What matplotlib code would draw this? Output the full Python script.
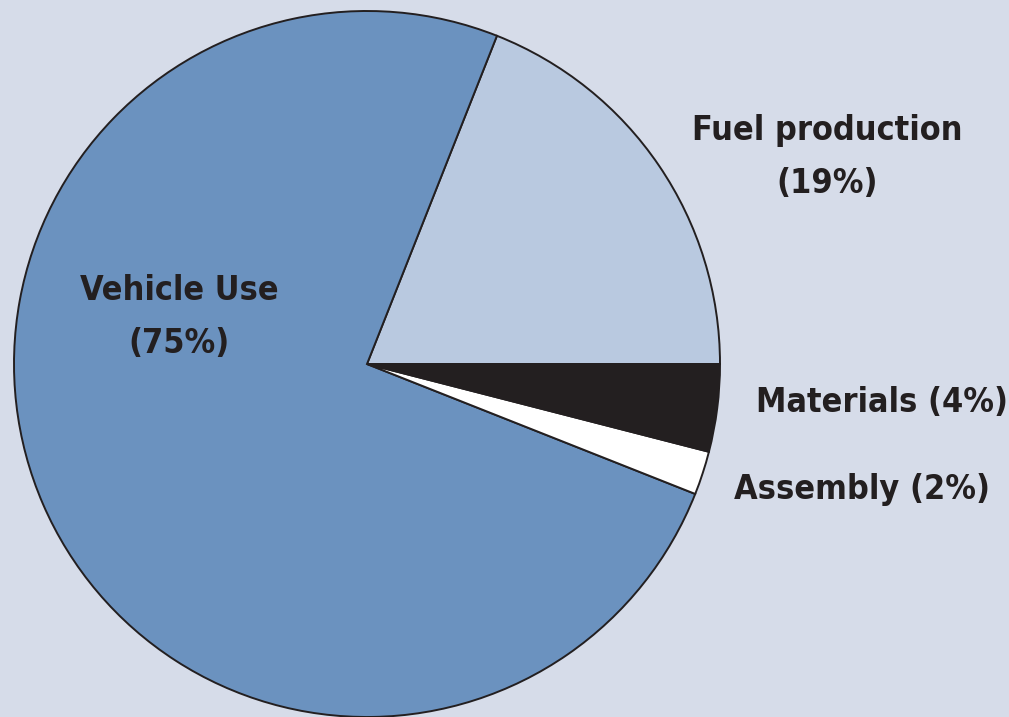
import matplotlib.pyplot as plt

# 数据
labels = ['Fuel production', 'Vehicle Use', 'Assembly', 'Materials']
shares = [19, 75, 2, 4]
colors = ['#b9c9e0', '#6b92bf', '#ffffff', '#231f20']

# 标签文字
label_texts = ['Fuel production\n(19%)', 'Vehicle Use\n(75%)', 'Assembly (2%)', 'Materials (4%)']
bg = '#d6dce9'

plt.rcParams['font.family'] = ['DejaVu Sans']

fig = plt.figure(figsize=(10.09, 7.17), dpi=100, facecolor=bg)
ax = fig.add_axes([0, 0, 1, 1])
ax.set_facecolor(bg)
ax.axis('off')

ax.pie(shares, colors=colors, startangle=0, counterclock=True,
       center=(367, 353), radius=353,
       wedgeprops=dict(edgecolor='#231f20', linewidth=1.4))
ax.set_xlim(0, 1009)
ax.set_ylim(0, 717)
ax.set_aspect('equal')

font = dict(fontsize=24.5, fontweight='bold', fontstretch='condensed', color='#231f20',
            ha='center', va='center', linespacing=1.8)
ax.text(827, 717 - 157, label_texts[0], **font)
ax.text(179, 717 - 317, label_texts[1], **font)
ax.text(862, 717 - 490, label_texts[2], **font)
ax.text(882, 717 - 403, label_texts[3], **font)

plt.savefig('out.png', dpi=100, facecolor=bg)
